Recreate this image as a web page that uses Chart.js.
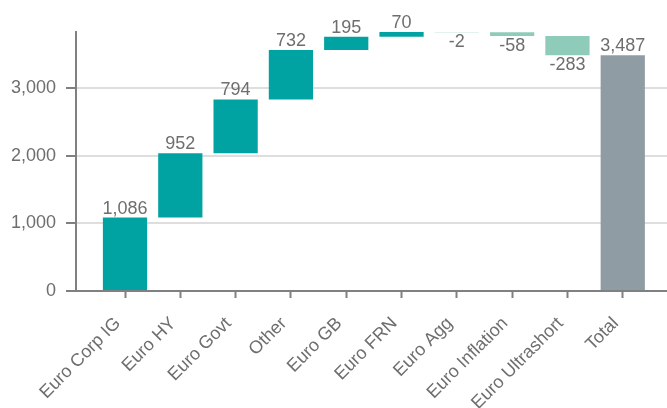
<!DOCTYPE html>
<html>
<head>
<meta charset="utf-8">
<script src="https://cdn.jsdelivr.net/npm/chart.js@4"></script>
<style>
  body { margin: 0; background: #fff; }
</style>
</head>
<body>
<canvas id="waterfallChart" width="667" height="408"></canvas>
<script>
// Data waterfall
const categories = ["Euro Corp IG", "Euro HY", "Euro Govt", "Other", "Euro GB", "Euro FRN", "Euro Agg", "Euro Inflation", "Euro Ultrashort", "Total"];
const changes = [1086, 952, 794, 732, 195, 70, -2, -58, -283];
const total = 3487;
const yTickValues = [0, 1000, 2000, 3000];

const TEAL = "#00a3a1";
const MINT = "#8ecbb9";
const GREY = "#8f9ca4";
const TEXT = "#6e6e6e";
const FONT = "'Liberation Sans', Arial, sans-serif";

// floating bars: [start, end]
let running = 0;
const bars = changes.map((v, i) => {
  const start = running;
  running += v;
  return { x: i, y: [start, running] };
});
bars.push({ x: changes.length, y: [0, total] });

const barLabels = changes.concat([total]);
const barColors = barLabels.map((v, i) =>
  i === changes.length ? GREY : v >= 0 ? TEAL : MINT
);
const topValue = Math.max(...bars.map((b) => Math.max(b.y[0], b.y[1])));

// labels above / below each bar
const valueLabels = {
  id: "valueLabels",
  afterDatasetsDraw(chart) {
    const ctx = chart.ctx;
    const meta = chart.getDatasetMeta(0);
    ctx.save();
    ctx.font = "18px " + FONT;
    ctx.fillStyle = TEXT;
    ctx.textAlign = "center";
    ctx.textBaseline = "alphabetic";
    meta.data.forEach((bar, i) => {
      const v = barLabels[i];
      const text = v.toLocaleString("en-US");
      if (v >= 0) {
        ctx.fillText(text, bar.x, Math.min(bar.y, bar.base) - 4);
      } else {
        ctx.fillText(text, bar.x, Math.max(bar.y, bar.base) + 15);
      }
    });
    ctx.restore();
  },
};

const ctx = document.getElementById("waterfallChart").getContext("2d");
new Chart(ctx, {
  type: "bar",
  data: {
    datasets: [
      {
        data: bars,
        backgroundColor: barColors,
        borderWidth: 0,
        barPercentage: 0.8,
        categoryPercentage: 1,
      },
    ],
  },
  options: {
    responsive: false,
    animation: false,
    layout: { padding: { top: 32, right: 0, left: 0, bottom: 0 } },
    plugins: {
      legend: { display: false },
      tooltip: { enabled: false },
    },
    scales: {
      x: {
        type: "linear",
        offset: false,
        min: -0.886,
        max: 9.8,
        afterBuildTicks: (s) => {
          s.ticks = categories.map((c, i) => ({ value: i }));
        },
        afterFit: (s) => {
          s.height = 117;
        },
        grid: {
          offset: false,
          drawOnChartArea: false,
          drawTicks: true,
          tickLength: 7,
          tickColor: "#808080",
          tickWidth: 2,
        },
        border: { display: true, color: "#808080", width: 2 },
        ticks: {
          autoSkip: false,
          minRotation: 45,
          maxRotation: 45,
          padding: 15,
          labelOffset: -7,
          color: TEXT,
          font: { family: FONT, size: 18 },
          callback: (v) => categories[v],
        },
      },
      y: {
        min: 0,
        max: topValue,
        afterBuildTicks: (s) => {
          s.ticks = yTickValues.map((v) => ({ value: v }));
        },
        afterFit: (s) => {
          s.width = 76;
        },
        grid: {
          color: "#dedede",
          lineWidth: 2,
          tickLength: 10,
          tickColor: "#808080",
          tickWidth: 2,
        },
        border: { display: true, color: "#808080", width: 2 },
        ticks: {
          padding: 10,
          color: TEXT,
          font: { family: FONT, size: 18 },
          callback: (v) => v.toLocaleString("en-US"),
        },
      },
    },
  },
  plugins: [valueLabels],
});
</script>
</body>
</html>
